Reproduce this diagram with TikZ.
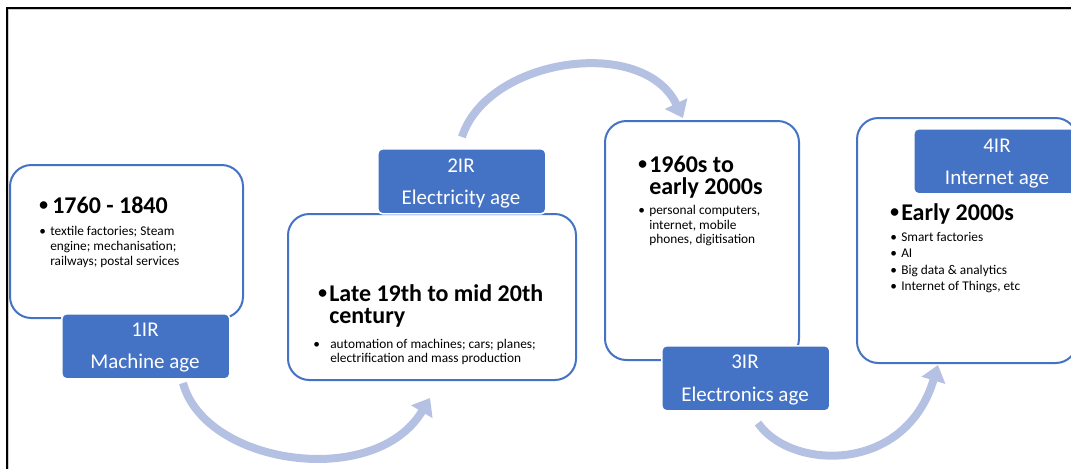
\documentclass[tikz,border=0pt]{standalone}
\usepackage{fontspec}
\setmainfont{Carlito}
\usetikzlibrary{arrows.meta}
\definecolor{ablue}{RGB}{68,114,196}
\definecolor{arrowc}{RGB}{180,193,226}
\begin{document}
\begin{tikzpicture}[x=0.75pt,y=-0.75pt,
  box/.style={draw=ablue, line width=1.5pt, rounded corners=16pt, fill=white, anchor=north west, inner sep=0pt},
  lab/.style={fill=ablue, draw=white, line width=1.2pt, rounded corners=3.5pt, minimum width=126pt, minimum height=48.75pt, anchor=north west, inner sep=0pt},
  labtxt/.style={text=white, font=\fontsize{15.75}{18}\selectfont, anchor=base, inner sep=0pt},
  bigtxt/.style={font=\bfseries\fontsize{18}{21}\selectfont, anchor=base west, inner sep=0pt},
  bigdot/.style={font=\fontsize{16}{18}\selectfont, anchor=base west, inner sep=0pt, yshift=1pt},
  smalltxt/.style={font=\fontsize{10}{12}\selectfont, anchor=base west, inner sep=0pt},
  flow/.style={draw=arrowc, line width=6pt, -{Triangle[width=18pt,length=12pt]}}
]
\useasboundingbox (0,0) rectangle (1071,469);
\clip (0,0) rectangle (1071,469);

% frame
\draw[gray!40, line width=0.6pt] (8.5,469) -- (8.5,9.5) -- (1071,9.5);
\draw[black, line width=1.2pt] (7,469) -- (7,8) -- (1071,8);

% content boxes
\node[box, minimum width=174.75pt, minimum height=114.75pt] (b1) at (9,164) {};
\node[box, minimum width=216pt, minimum height=124.5pt] (b2) at (287,213) {};
\node[box, minimum width=145.5pt, minimum height=179.25pt] (b3) at (604,120) {};
\node[box, minimum width=165pt, minimum height=183.75pt] (b4) at (856,117) {};

% labels
\node[lab] (l1) at (61,313) {};
\node[lab] (l2) at (377,148) {};
\node[lab] (l3) at (661,345) {};
\node[lab] (l4) at (913,128) {};

\node[labtxt] (l1a) at (145,336) {1IR};
\node[labtxt] (l1b) at (145,368) {Machine age};
\node[labtxt] (l2a) at (461,172) {2IR};
\node[labtxt] (l2b) at (461,204) {Electricity age};
\node[labtxt] (l3a) at (745,368) {3IR};
\node[labtxt] (l3b) at (745,401) {Electronics age};
\node[labtxt] (l4a) at (997,152) {4IR};
\node[labtxt] (l4b) at (997,184) {Internet age};

% box 1 text
\node[bigdot] (t1b) at (38,213) {•};
\node[bigtxt] (t1) at (52,213) {1760 - 1840};
\node[smalltxt] (s1b) at (39,235) {•};
\node[smalltxt] (s1a) at (50,235) {textile factories; Steam};
\node[smalltxt] (s1c) at (50,250) {engine; mechanisation;};
\node[smalltxt] (s1d) at (50,265) {railways; postal services};

% box 2 text
\node[bigdot] (t2b) at (317,301) {•};
\node[bigtxt] (t2a) at (329,301) {Late 19th to mid 20th};
\node[bigtxt] (t2c) at (329,323) {century};
\node[smalltxt] (s2b) at (313,348) {•};
\node[smalltxt] (s2a) at (330,348) {automation of machines; cars; planes;};
\node[smalltxt] (s2c) at (330,362) {electrification and mass production};

% box 3 text
\node[bigdot] (t3b) at (637,172) {•};
\node[bigtxt] (t3a) at (649,172) {1960s to};
\node[bigtxt] (t3c) at (649,194) {early 2000s};
\node[smalltxt] (s3b) at (638,214) {•};
\node[smalltxt] (s3a) at (649,214) {personal computers,};
\node[smalltxt] (s3c) at (649,229) {internet, mobile};
\node[smalltxt] (s3d) at (649,243) {phones, digitisation};

% box 4 text
\node[bigdot] (t4b) at (889,220) {•};
\node[bigtxt] (t4a) at (901,220) {Early 2000s};
\node[smalltxt] (s4b1) at (890,241) {•};
\node[smalltxt] (s4a) at (901,241) {Smart factories};
\node[smalltxt] (s4b2) at (890,257.5) {•};
\node[smalltxt] (s4c) at (901,257.5) {AI};
\node[smalltxt] (s4b3) at (890,274) {•};
\node[smalltxt] (s4d) at (901,274) {Big data \& analytics};
\node[smalltxt] (s4b4) at (890,290.5) {•};
\node[smalltxt] (s4e) at (901,290.5) {Internet of Things, etc};

% curved arrows
\coordinate (a1s) at (183,383);
\coordinate (a1e) at (430,398);
\coordinate (a2s) at (462,137);
\coordinate (a2e) at (683,118);
\coordinate (a3s) at (758,423);
\coordinate (a3e) at (938,365);
\draw[flow] (a1s) .. controls (205,465) and (375,490) .. (a1e);
\draw[flow] (a2s) .. controls (487,58) and (643,35) .. (a2e);
\draw[flow] (a3s) .. controls (790,470) and (905,475) .. (a3e);
\end{tikzpicture}
\end{document}
